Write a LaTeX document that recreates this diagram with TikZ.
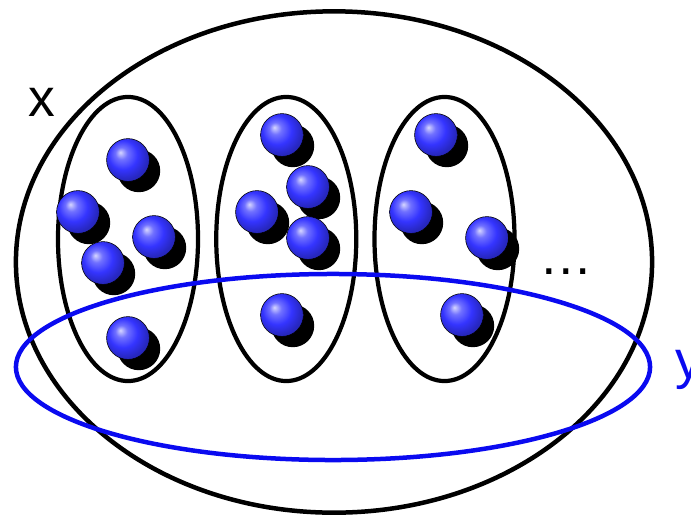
\documentclass[tikz,border=0pt]{standalone}
\usepackage{fontspec}
\setmainfont{Liberation Sans}
\usepackage{tikz}
\usetikzlibrary{positioning,shapes.geometric,shadows}
\definecolor{ink}{HTML}{000000}
\definecolor{ballblue}{HTML}{3434FF}
\definecolor{ringblue}{HTML}{0A0AF0}
\pgfdeclareradialshading{bluesphere}{\pgfpoint{-9bp}{9bp}}{%
  color(0bp)=(ballblue!20!white); color(7bp)=(ballblue!70!white);
  color(17bp)=(ballblue); color(27bp)=(ballblue!75!black);
  color(50bp)=(ballblue!60!black)}
\tikzset{
  outer/.style={ellipse, draw=ink, line width=3.2pt, minimum width=15.9cm,
                minimum height=12.53cm, inner sep=0pt},
  group/.style={ellipse, draw=ink, line width=3pt, minimum width=3.5cm,
                minimum height=7.1cm, inner sep=0pt},
  ring/.style={ellipse, draw=ringblue, line width=3.2pt, minimum width=15.85cm,
               minimum height=4.65cm, inner sep=0pt},
  ball/.style={circle, inner sep=0pt, minimum size=1.07cm, shading=bluesphere,
               draw=ink, line width=0.4pt,
               drop shadow={shadow xshift=0.27cm, shadow yshift=-0.27cm,
                            opacity=1, fill=ink}},
  lbl/.style={font=\fontsize{38}{40}\selectfont, inner sep=0pt}
}
\begin{document}
\begin{tikzpicture}[x=0.025cm, y=-0.025cm]
  \useasboundingbox (0,0) rectangle (691,520);
  \node[outer] (X) at (334,262) {};
  % the three groups
  \node[group] (g1) at (128,239) {};
  \node[group, right=0.35cm of g1] (g2) {};
  \node[group, right=0.35cm of g2] (g3) {};
  % balls
  \node[ball] (a1) at (128,160) {};
  \node[ball] (a2) at (78,212) {};
  \node[ball] (a3) at (154,237) {};
  \node[ball] (a4) at (103,263) {};
  \node[ball] (a5) at (128,338) {};
  \node[ball] (b1) at (282,135) {};
  \node[ball] (b2) at (308,187) {};
  \node[ball] (b3) at (257,212) {};
  \node[ball] (b4) at (308,238) {};
  \node[ball] (b5) at (282,315) {};
  \node[ball] (c1) at (436,135) {};
  \node[ball] (c2) at (411,212) {};
  \node[ball] (c3) at (487,238) {};
  \node[ball] (c4) at (462,315) {};
  \node[ring] (Y) at (333,367) {};
  % labels
  \node[lbl, anchor=base] (xl) at (42,116) {x};
  \node[lbl, anchor=base west, text=ringblue] (yl) at (675,378) {y};
  \node[lbl, anchor=base] (dots) at (566,274) {\dots};
\end{tikzpicture}
\end{document}
